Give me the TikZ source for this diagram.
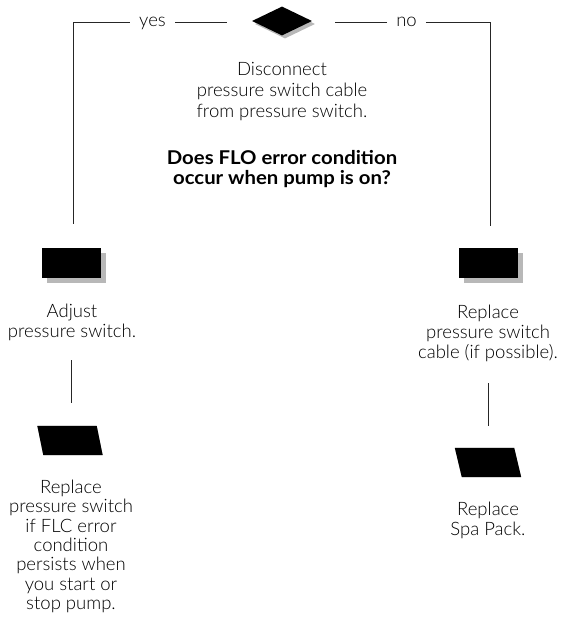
\documentclass[tikz,border=0pt]{standalone}
\usepackage{fontspec}
\setmainfont{Lato Light}[BoldFont={Lato Bold}]
\newfontfamily\qfont{Lato Bold}[FakeStretch=1.07]
\usetikzlibrary{shapes.geometric,shadows}
\begin{document}
\begin{tikzpicture}[x=1pt,y=-1pt,
  line/.style={line width=1pt, draw=black!85},
  shad/.style={drop shadow={shadow xshift=5pt, shadow yshift=-5pt, fill=black!28, opacity=1}},
  txt/.style={align=center, inner sep=0pt, anchor=north, text=black},
  reg/.style={font=\fontsize{18.5}{20}\selectfont},
  lbl/.style={inner ysep=0pt, text height=12pt, text depth=4pt, text=black, font=\fontsize{18.5}{20}\selectfont},
  decision/.style={diamond, fill=black, inner sep=0pt, minimum width=60pt, minimum height=29pt,
     drop shadow={shadow xshift=3pt, shadow yshift=-3pt, fill=black!28, opacity=1}},
  actbox/.style={rectangle, fill=black, inner sep=0pt, minimum width=59pt, minimum height=30pt, shad},
  endslot/.style={rectangle, inner sep=0pt, minimum width=59pt, minimum height=29pt},
  shadfill/.style={fill=black!28},
]
\useasboundingbox (0,0) rectangle (561,636);

% decision
\node[decision] (dia) at (282,21) {};
\node[lbl, inner xsep=9.5pt] (yes) at (152.5,23) {yes};
\node[lbl, inner xsep=9pt] (no) at (406.5,23) {no};
\coordinate (tl) at (73,23);
\coordinate (tr) at (490,23);
\coordinate (lend) at (73,224);
\coordinate (rend) at (490,226);

\node[txt, font=\fontsize{18.5}{21}\selectfont] (q) at (282,62) {Disconnect\\pressure switch cable\\from pressure switch.};
\node[txt, font=\qfont\fontsize{19}{20}\selectfont] (qb) at (282,150) {Does FLO error condition\\occur when pump is on?};

% left branch
\node[actbox] (adjbox) at (71.5,263) {};
\node[txt, reg] (adj) at (72,304) {Adjust\\pressure switch.};
\node[endslot] (repl) at (70,440.5) {};
\fill[shadfill, shift={(4,4)}] ([xshift=-3pt]repl.north west) -- ([xshift=-3pt]repl.north east)
   -- ([xshift=3pt]repl.south east) -- ([xshift=3pt]repl.south west) -- cycle;
\fill[black] ([xshift=-3pt]repl.north west) -- ([xshift=-3pt]repl.north east)
   -- ([xshift=3pt]repl.south east) -- ([xshift=3pt]repl.south west) -- cycle;
\node[txt, font=\fontsize{18.5}{19.3}\selectfont] (repltxt) at (71,480) {Replace\\pressure switch\\if FLC error\\condition\\persists when\\you start or\\stop pump.};

% right branch
\node[actbox] (cabbox) at (488.5,263) {};
\node[txt, reg] (cab) at (488,305) {Replace\\pressure switch\\cable (if possible).};
\node[endslot] (spa) at (488,462.5) {};
\fill[shadfill, shift={(4,4)}] ([xshift=-3.5pt]spa.north west) -- ([xshift=-3.5pt]spa.north east)
   -- ([xshift=3.5pt]spa.south east) -- ([xshift=3.5pt]spa.south west) -- cycle;
\fill[black] ([xshift=-3.5pt]spa.north west) -- ([xshift=-3.5pt]spa.north east)
   -- ([xshift=3.5pt]spa.south east) -- ([xshift=3.5pt]spa.south west) -- cycle;
\node[txt, reg] (spatxt) at (488,502) {Replace\\Spa Pack.};

% connectors
\draw[line] (yes) -- (tl) -- (lend);
\draw[line, shorten >=25pt] (yes) -- (yes -| dia.west);
\draw[line, shorten >=23pt] (no) -- (no -| dia.east);
\draw[line] (no) -- (tr) -- (rend);
\draw[line] ([yshift=-19pt]adj.south -| adjbox) -- ([yshift=23pt]repl.north -| adjbox);
\draw[line] ([yshift=-21pt]cab.south -| cabbox) -- ([yshift=22pt]spa.north -| cabbox);
\end{tikzpicture}
\end{document}
